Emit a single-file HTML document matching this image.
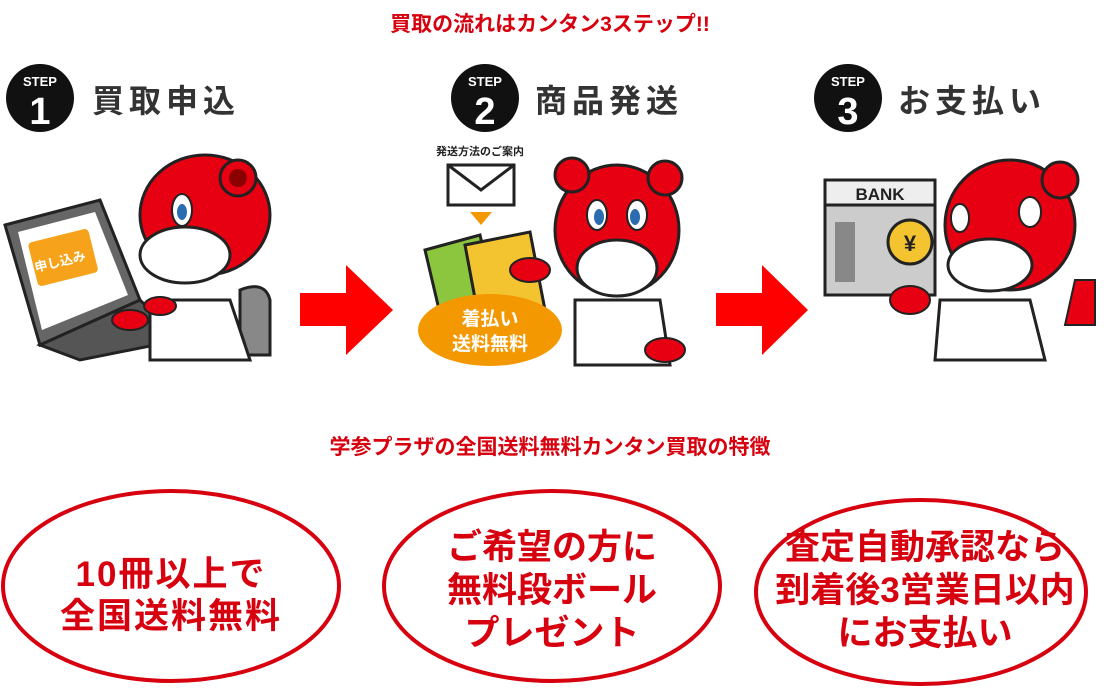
<!DOCTYPE html>
<html><head><meta charset="utf-8"><style>
html,body{margin:0;padding:0;background:#fff;}
svg{display:block;}
text{font-family:"Liberation Sans","Noto Sans CJK JP",sans-serif;font-weight:bold;}
</style></head><body>
<svg width="1104" height="690" viewBox="0 0 1104 690">
<text x="550" y="31" text-anchor="middle" font-size="21" fill="#d7000f">買取の流れはカンタン3ステップ!!</text>

<g>
<circle cx="40" cy="98" r="34" fill="#111"/>
<text x="40" y="86" text-anchor="middle" font-size="13" fill="#fff">STEP</text>
<text x="40" y="124" text-anchor="middle" font-size="38" fill="#fff">1</text>
<text x="92" y="112" font-size="32" fill="#333" letter-spacing="5">買取申込</text>
<circle cx="485" cy="98" r="34" fill="#111"/>
<text x="485" y="86" text-anchor="middle" font-size="13" fill="#fff">STEP</text>
<text x="485" y="124" text-anchor="middle" font-size="38" fill="#fff">2</text>
<text x="535" y="112" font-size="32" fill="#333" letter-spacing="5">商品発送</text>
<circle cx="848" cy="98" r="34" fill="#111"/>
<text x="848" y="86" text-anchor="middle" font-size="13" fill="#fff">STEP</text>
<text x="848" y="124" text-anchor="middle" font-size="38" fill="#fff">3</text>
<text x="898" y="112" font-size="32" fill="#333" letter-spacing="5">お支払い</text>
</g>

<polygon points="300,293 346,293 346,265 393,310 346,355 346,326 300,326" fill="#f00"/>
<polygon points="716,293 762,293 762,265 808,310 762,355 762,326 716,326" fill="#f00"/>

<polygon points="5,225 100,200 140,300 40,345" fill="#666" stroke="#222" stroke-width="3"/>
<polygon points="18,232 95,212 128,295 42,330" fill="#fff"/>
<rect x="32" y="235" width="62" height="45" rx="4" fill="#f6a31b" transform="rotate(-14 63 257)"/>
<text x="60" y="266" text-anchor="middle" font-size="13" fill="#fff" transform="rotate(-14 60 262)">申し込み</text>
<polygon points="40,345 140,300 180,340 80,360" fill="#555" stroke="#222" stroke-width="3"/>
<path d="M240,290 Q265,280 270,300 L270,355 L240,355 Z" fill="#888" stroke="#222" stroke-width="3"/>
<path d="M150,300 L230,300 L250,360 L150,360 Z" fill="#fff" stroke="#222" stroke-width="3"/>
<ellipse cx="205" cy="215" rx="65" ry="60" fill="#e60012" stroke="#222" stroke-width="3"/>
<circle cx="238" cy="178" r="18" fill="#e60012" stroke="#222" stroke-width="3"/>
<circle cx="238" cy="178" r="9" fill="#8b0000"/>
<ellipse cx="185" cy="255" rx="45" ry="28" fill="#fff" stroke="#222" stroke-width="3"/>
<ellipse cx="182" cy="210" rx="10" ry="16" fill="#fff" stroke="#222" stroke-width="2"/>
<ellipse cx="182" cy="212" rx="5" ry="8" fill="#2b6cb0"/>
<ellipse cx="130" cy="320" rx="18" ry="10" fill="#e60012" stroke="#222" stroke-width="2"/>
<ellipse cx="160" cy="306" rx="16" ry="9" fill="#e60012" stroke="#222" stroke-width="2"/>

<text x="480" y="155" text-anchor="middle" font-size="11" fill="#222">発送方法のご案内</text>
<rect x="448" y="165" width="66" height="40" fill="#fff" stroke="#222" stroke-width="3"/>
<polyline points="448,165 481,190 514,165" fill="none" stroke="#222" stroke-width="3"/>
<polygon points="470,212 492,212 481,225" fill="#f39800"/>
<polygon points="425,250 480,235 500,320 445,335" fill="#8cc63f" stroke="#222" stroke-width="3"/>
<polygon points="465,245 530,232 545,310 480,325" fill="#f4c430" stroke="#222" stroke-width="3"/>
<ellipse cx="490" cy="330" rx="72" ry="36" fill="#f39800"/>
<text x="490" y="325" text-anchor="middle" font-size="19" fill="#fff">着払い</text>
<text x="490" y="350" text-anchor="middle" font-size="19" fill="#fff">送料無料</text>
<path d="M575,300 L660,300 L670,365 L575,365 Z" fill="#fff" stroke="#222" stroke-width="3"/>
<ellipse cx="617" cy="230" rx="62" ry="65" fill="#e60012" stroke="#222" stroke-width="3"/>
<circle cx="572" cy="175" r="17" fill="#e60012" stroke="#222" stroke-width="3"/>
<circle cx="665" cy="178" r="17" fill="#e60012" stroke="#222" stroke-width="3"/>
<ellipse cx="617" cy="268" rx="40" ry="28" fill="#fff" stroke="#222" stroke-width="3"/>
<ellipse cx="597" cy="215" rx="10" ry="15" fill="#fff" stroke="#222" stroke-width="2"/>
<ellipse cx="637" cy="215" rx="10" ry="15" fill="#fff" stroke="#222" stroke-width="2"/>
<ellipse cx="599" cy="217" rx="5" ry="8" fill="#2b6cb0"/>
<ellipse cx="635" cy="217" rx="5" ry="8" fill="#2b6cb0"/>
<ellipse cx="530" cy="270" rx="20" ry="12" fill="#e60012" stroke="#222" stroke-width="2"/>
<ellipse cx="665" cy="350" rx="20" ry="12" fill="#e60012" stroke="#222" stroke-width="2"/>

<rect x="825" y="200" width="110" height="95" fill="#ccc" stroke="#222" stroke-width="3"/>
<rect x="825" y="180" width="110" height="25" fill="#eee" stroke="#222" stroke-width="3"/>
<text x="880" y="200" text-anchor="middle" font-size="17" fill="#222">BANK</text>
<rect x="835" y="222" width="20" height="60" fill="#888"/>
<circle cx="910" cy="242" r="22" fill="#f4c430" stroke="#222" stroke-width="3"/>
<text x="910" y="251" text-anchor="middle" font-size="22" fill="#222">¥</text>
<path d="M940,300 L1030,300 L1045,360 L935,360 Z" fill="#fff" stroke="#222" stroke-width="3"/>
<ellipse cx="1010" cy="225" rx="65" ry="65" fill="#e60012" stroke="#222" stroke-width="3"/>
<circle cx="1060" cy="180" r="18" fill="#e60012" stroke="#222" stroke-width="3"/>
<ellipse cx="990" cy="265" rx="42" ry="26" fill="#fff" stroke="#222" stroke-width="3"/>
<ellipse cx="960" cy="218" rx="9" ry="14" fill="#fff" stroke="#222" stroke-width="2"/>
<ellipse cx="1030" cy="212" rx="11" ry="15" fill="#fff" stroke="#222" stroke-width="2"/>
<ellipse cx="910" cy="300" rx="20" ry="14" fill="#e60012" stroke="#222" stroke-width="2"/>
<path d="M1075,280 L1095,280 L1095,325 L1065,325 Z" fill="#e60012" stroke="#222" stroke-width="2"/>

<text x="550" y="454" text-anchor="middle" font-size="21" fill="#d7000f">学参プラザの全国送料無料カンタン買取の特徴</text>

<g fill="none" stroke="#d7000f" stroke-width="4">
<ellipse cx="171" cy="586" rx="168" ry="95"/>
<ellipse cx="552" cy="586" rx="168" ry="95"/>
<ellipse cx="921" cy="592" rx="165" ry="92"/>
</g>
<g fill="#d7000f" font-size="35" text-anchor="middle">
<text x="171" y="586" letter-spacing="2">10冊以上で</text>
<text x="171" y="628" letter-spacing="2">全国送料無料</text>
<text x="552" y="559">ご希望の方に</text>
<text x="552" y="602">無料段ボール</text>
<text x="552" y="645">プレゼント</text>
<text x="925" y="559">査定自動承認なら</text>
<text x="925" y="602">到着後3営業日以内</text>
<text x="925" y="645">にお支払い</text>
</g>
</svg>
</body></html>
